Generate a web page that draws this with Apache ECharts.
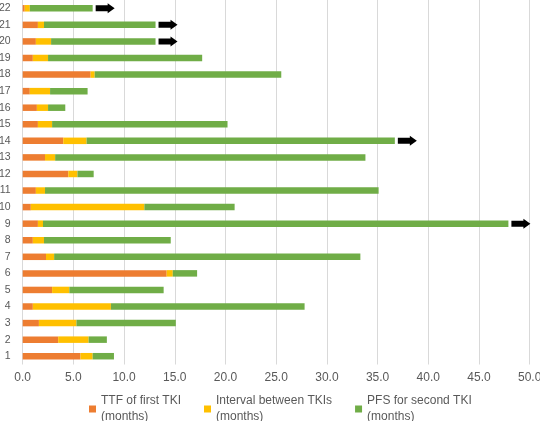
<!DOCTYPE html>
<html><head><meta charset="utf-8">
<script src="https://cdn.jsdelivr.net/npm/echarts@6/dist/echarts.min.js"></script>
<style>html,body{margin:0;padding:0;background:#fff}#c{width:540px;height:421px}</style>
</head><body><div id="c"></div>
<script>
var categories = ['1','2','3','4','5','6','7','8','9','10','11','12','13','14','15','16','17','18','19','20','21','22'];
var ttf      = [5.7,3.5,1.6,1.0,2.9,14.2,2.3,1.0,1.5,0.8,1.3,4.5,2.2,4.0,1.5,1.4,0.7,6.7,1.0,1.3,1.5,0.2];
var interval = [1.2,3.0,3.7,7.7,1.7,0.6,0.8,1.1,0.5,11.2,0.9,0.9,1.0,2.3,1.4,1.1,2.0,0.4,1.5,1.5,0.6,0.5];
var pfs      = [2.1,1.8,9.8,19.1,9.3,2.4,30.2,12.5,45.9,8.9,32.9,1.6,30.6,30.4,17.3,1.7,3.7,18.4,15.2,10.3,11.0,6.2];
var ongoing  = ['9','14','20','21','22'];
var seriesNames = ['TTF of first TKI\n(months)','Interval between TKIs\n(months)','PFS for second TKI\n(months)'];
var xTicks = [0,5,10,15,20,25,30,35,40,45,50];

var arrowData = ongoing.map(function(c){
  var i = categories.indexOf(c);
  return [ttf[i]+interval[i]+pfs[i], i];
});
var font = 'Liberation Sans';
var chart = echarts.init(document.getElementById('c'));
chart.setOption({
  animation:false,
  textStyle:{fontFamily:font},
  grid:{left:22.7,right:10.3,top:0,bottom:56.5,containLabel:false,outerBoundsMode:'none'},
  xAxis:{type:'value',min:xTicks[0],max:xTicks[xTicks.length-1],interval:5,
    axisLabel:{color:'#595959',fontSize:12,margin:7,formatter:function(v){return v.toFixed(1);}},
    axisLine:{show:false},axisTick:{show:false},
    splitLine:{lineStyle:{color:'#d9d9d9',width:1}}},
  yAxis:{type:'category',data:categories,
    axisLabel:{color:'#595959',fontSize:10.5,margin:12},
    axisLine:{show:false},axisTick:{show:false}},
  legend:{data:seriesNames,top:380,left:84,itemWidth:7,itemHeight:7,itemGap:23,icon:'rect',
    textStyle:{color:'#595959',fontSize:12,lineHeight:16,padding:[0,0,16,0]}},
  series:[
    {name:seriesNames[0],type:'bar',stack:'a',barWidth:6.5,data:ttf,itemStyle:{color:'#ED7D31'}},
    {name:seriesNames[1],type:'bar',stack:'a',barWidth:6.5,data:interval,itemStyle:{color:'#FFC000'}},
    {name:seriesNames[2],type:'bar',stack:'a',barWidth:6.5,data:pfs,itemStyle:{color:'#70AD47'}},
    {name:'ongoing',type:'scatter',data:arrowData,symbol:'path://M0,2 L12,2 L12,0 L19,5 L12,10 L12,8 L0,8 Z',
     symbolSize:[19,10],symbolOffset:[12.5,0],itemStyle:{color:'#000',opacity:1},z:5}
  ]
});
</script></body></html>
